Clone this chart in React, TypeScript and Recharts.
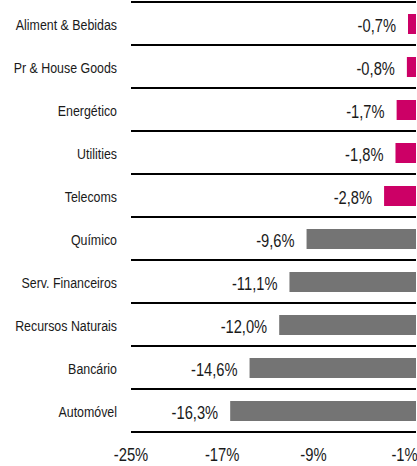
import React from 'react';
import { BarChart, Bar, XAxis, YAxis, Cell, LabelList, ReferenceLine } from 'recharts';

const categories = [
  'Aliment & Bebidas',
  'Pr & House Goods',
  'Energético',
  'Utilities',
  'Telecoms',
  'Químico',
  'Serv. Financeiros',
  'Recursos Naturais',
  'Bancário',
  'Automóvel',
];
const values = [-0.7, -0.8, -1.7, -1.8, -2.8, -9.6, -11.1, -12.0, -14.6, -16.3];
const groups = ['top', 'top', 'top', 'top', 'top', 'rest', 'rest', 'rest', 'rest', 'rest'];
const xTicks = [-25, -17, -9, -1];

const data = categories.map((name, i) => ({ name, value: values[i], group: groups[i], slot: i }));
const separators = categories.map((_, i) => i).concat([categories.length]);

const FONT = '"Liberation Sans", Arial, sans-serif';
const TEXT = '#1a1a1a';
const COLORS: Record<string, string> = { top: '#cc0066', rest: '#747474' };

const fmt = (v: number) => `${v.toFixed(1).replace('.', ',')}%`;

const NarrowText = ({ x, y, anchor, size, squeeze, children }: any) => (
  <text
    transform={`translate(${x},${y}) scale(${squeeze},1)`}
    x={0}
    y={0}
    dy="0.36em"
    textAnchor={anchor}
    fontFamily={FONT}
    fontSize={size}
    fill={TEXT}
  >
    {children}
  </text>
);

const ValueLabel = (props: any) => {
  const { x, y, width, height, value } = props;
  const left = Math.min(Number(x), Number(x) + Number(width));
  return (
    <NarrowText x={left - 12} y={Number(y) + Number(height) / 2 + 2} anchor="end" size={17.5} squeeze={0.84}>
      {fmt(value)}
    </NarrowText>
  );
};

const CategoryTick = (props: any) => {
  const { x, y, payload } = props;
  return (
    <NarrowText x={x} y={y + 1} anchor="end" size={15.5} squeeze={0.8}>
      {payload.value}
    </NarrowText>
  );
};

const ValueTick = (props: any) => {
  const { x, y, payload } = props;
  return (
    <NarrowText x={x} y={y + 22} anchor="middle" size={19} squeeze={0.78}>
      {`${payload.value}%`}
    </NarrowText>
  );
};

export default function App() {
  return (
    <div style={{ position: 'absolute', left: 0, top: 0 }}>
      <BarChart
        layout="vertical"
        width={430}
        height={466}
        data={data}
        margin={{ top: 2, right: 14, bottom: 0, left: 0 }}
      >
        <XAxis
          type="number"
          domain={[-25, 0]}
          ticks={xTicks}
          allowDataOverflow
          axisLine={false}
          tickLine={false}
          height={34}
          tickSize={0}
          tickMargin={0}
          tick={<ValueTick />}
        />
        <YAxis
          type="category"
          dataKey="name"
          width={131}
          axisLine={false}
          tickLine={false}
          tickSize={0}
          tickMargin={14}
          tick={<CategoryTick />}
        />
        <YAxis
          yAxisId="grid"
          type="number"
          dataKey="slot"
          domain={[0, categories.length]}
          allowDataOverflow
          hide
          reversed
        />
        {separators.map((s) => (
          <ReferenceLine key={s} yAxisId="grid" y={s} stroke="#000" strokeWidth={2} ifOverflow="visible" />
        ))}
        <Bar dataKey="value" barSize={20} isAnimationActive={false}>
          {data.map((d, i) => (
            <Cell key={i} fill={COLORS[d.group]} />
          ))}
          <LabelList dataKey="value" content={ValueLabel} />
        </Bar>
      </BarChart>
    </div>
  );
}
